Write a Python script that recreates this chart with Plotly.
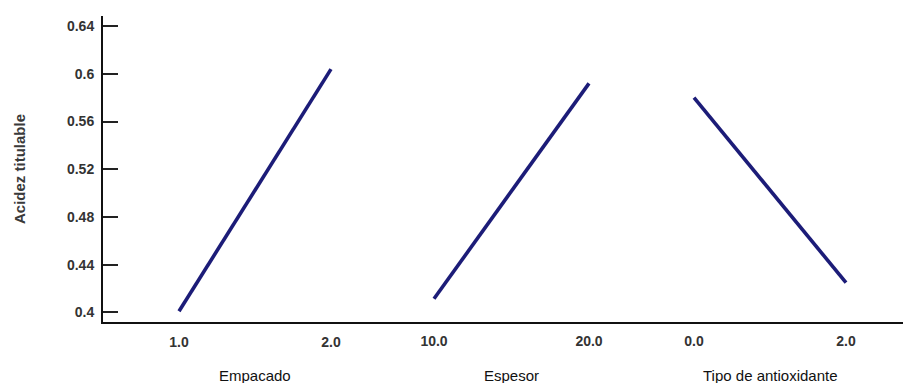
import plotly.graph_objects as go

# Data
factors = ["Empacado", "Espesor", "Tipo de antioxidante"]
x_low = [1.0, 10.0, 0.0]
x_high = [2.0, 20.0, 2.0]
y_low = [0.401, 0.4115, 0.580]
y_high = [0.604, 0.592, 0.425]
y_ticks = [0.4, 0.44, 0.48, 0.52, 0.56, 0.6, 0.64]
y_ticktext = ["0.4", "0.44", "0.48", "0.52", "0.56", "0.6", "0.64"]

# Layout geometry (pixels); page body adds an 8px offset
OFF = 8
W, H = 911 - OFF, 383 - OFF
ML, MR, MT = 103 - OFF, 3, 16 - OFF
plot_w = W - ML - MR
plot_bottom = 322 - OFF
MB = H - plot_bottom
px_low = [179 - OFF, 434 - OFF, 694 - OFF]
px_high = [331 - OFF, 589 - OFF, 846 - OFF]

font_fam = "Liberation Sans, Arial, sans-serif"
txt_col = "#333333"
line_col = "#1c1c78"

fig = go.Figure()
layout = dict(
    width=W, height=H,
    margin=dict(l=ML, r=MR, t=MT, b=MB),
    paper_bgcolor="white", plot_bgcolor="white",
    showlegend=False,
    font=dict(family=font_fam, size=13, color=txt_col),
)

annotations = []
for i, name in enumerate(factors):
    ax = "x" if i == 0 else f"x{i+1}"
    axkey = "xaxis" if i == 0 else f"xaxis{i+1}"
    lo, hi = x_low[i], x_high[i]
    u = (hi - lo) / (px_high[i] - px_low[i])
    r0 = lo - (px_low[i] - ML) * u
    r1 = lo + (ML + plot_w - px_low[i]) * u
    fig.add_trace(go.Scatter(
        x=[lo, hi], y=[y_low[i], y_high[i]],
        mode="lines", line=dict(color=line_col, width=3.6),
        xaxis=ax, yaxis="y", hoverinfo="skip",
    ))
    axd = dict(
        domain=[0, 1], range=[r0, r1], anchor="y",
        tickvals=[lo, hi], ticktext=[f"{lo:.1f}", f"{hi:.1f}"],
        ticks="outside", ticklen=6, tickcolor="rgba(0,0,0,0)",
        tickfont=dict(family=font_fam, size=14, color=txt_col, weight="bold"),
        showgrid=False, zeroline=False,
        showline=(i == 0), linecolor="#111111", linewidth=2,
    )
    if i > 0:
        axd["overlaying"] = "x"
    layout[axkey] = axd
    annotations.append(dict(
        x=(lo + hi) / 2, xref=ax, y=0, yref="paper",
        yshift=-53, yanchor="middle", xanchor="center",
        text=name, showarrow=False,
        font=dict(family=font_fam, size=15, color="#111111"),
    ))

# y-axis title as annotation, centred at reference x=19
annotations.append(dict(
    x=0, xref="paper", y=0.5, yref="paper",
    xshift=-(103 - 19), xanchor="center", yanchor="middle",
    text="Acidez titulable", textangle=-90, showarrow=False,
    font=dict(family=font_fam, size=15, color="#3a3a3a", weight="bold"),
))

layout["yaxis"] = dict(
    range=[0.392, 0.6485],
    tickvals=y_ticks, ticktext=y_ticktext,
    ticks="inside", ticklen=15, tickwidth=1.5, tickcolor="#222222",
    tickfont=dict(family=font_fam, size=14, color=txt_col, weight="bold"),
    showgrid=False, zeroline=False,
    showline=True, linecolor="#111111", linewidth=2,
    ticklabelstandoff=4,
)
layout["annotations"] = annotations
fig.update_layout(**layout)
fig.write_html("out.html")
